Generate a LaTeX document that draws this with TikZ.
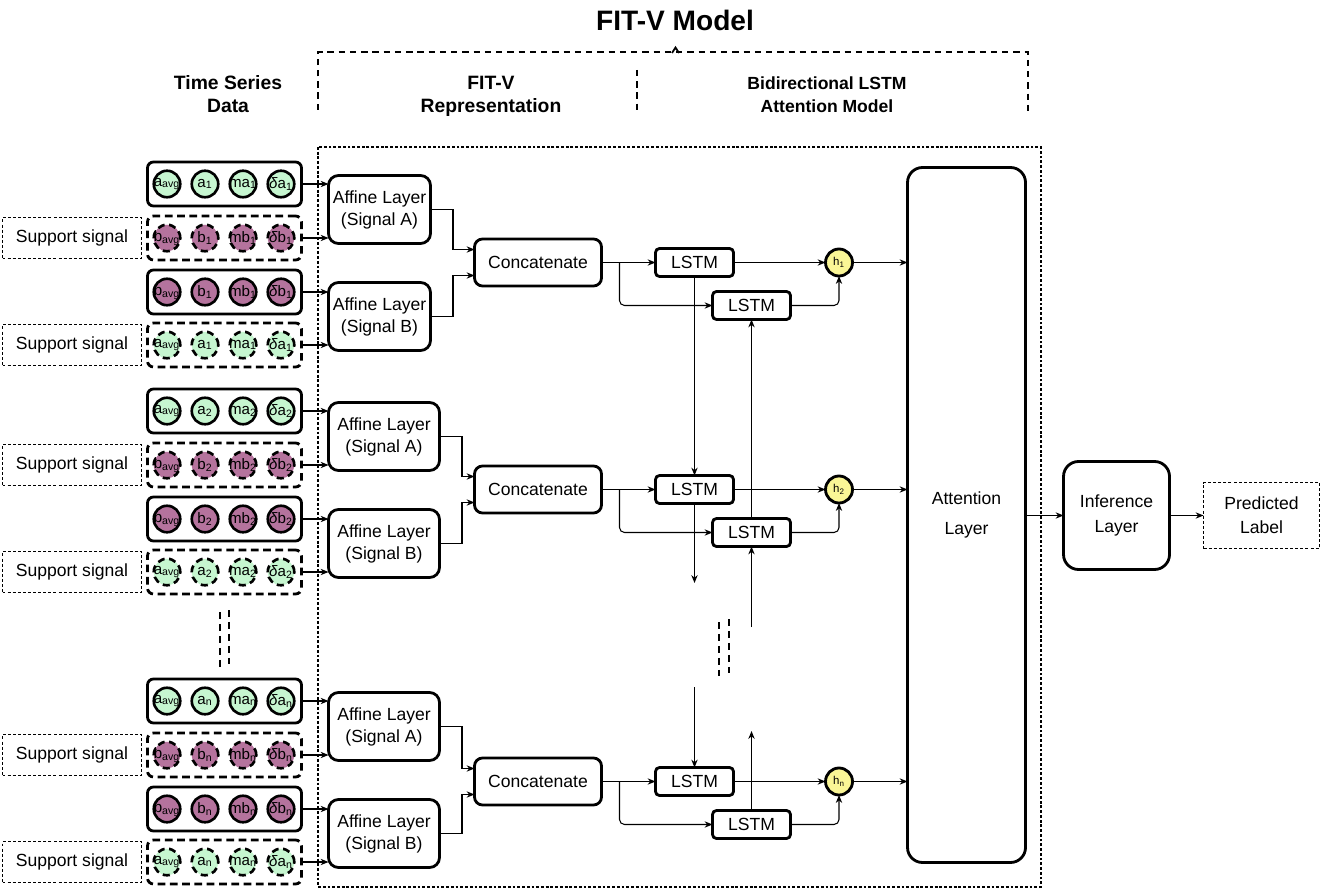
\documentclass[tikz,border=0pt]{standalone}
\usepackage{fontspec}
\setmainfont{Liberation Sans}
\usetikzlibrary{arrows.meta,calc}
\definecolor{ggreen}{RGB}{198,246,208}
\definecolor{gpurple}{RGB}{181,115,157}
\definecolor{hyellow}{RGB}{250,246,150}
\newcommand{\ux}{0.02cm}
\newcommand{\zb}[1]{\makebox[0pt][c]{#1}}
\tikzset{
  every node/.style={inner sep=0pt,outer sep=0pt},
  ln/.style={line width=0.6pt},
  arr/.style={line width=0.6pt,-{Stealth[length=4.5pt,width=3.6pt]}},
  inbox/.style={draw,line width=1.6pt,rounded corners=0.12cm,minimum width=154*\ux,minimum height=44*\ux},
  inboxd/.style={inbox,dash pattern=on 4.4pt off 2.6pt},
  cbase/.style={circle,draw,line width=1.5pt,minimum size=26.5*\ux,font=\fontsize{8.6}{10}\selectfont},
  cg/.style={cbase,fill=ggreen},
  cp/.style={cbase,fill=gpurple},
  cgd/.style={cg,dash pattern=on 4pt off 2.6pt},
  cpd/.style={cp,dash pattern=on 4pt off 2.6pt},
  sup/.style={draw,line width=0.6pt,dash pattern=on 1.7pt off 1.2pt,minimum width=139*\ux,minimum height=41*\ux,font=\fontsize{10}{12}\selectfont},
  affine/.style={draw,line width=1.6pt,rounded corners=0.2cm,minimum height=68*\ux,align=center,font=\fontsize{10}{12.5}\selectfont},
  concat/.style={draw,line width=1.6pt,rounded corners=0.16cm,minimum width=127*\ux,minimum height=47*\ux,font=\fontsize{10}{12}\selectfont},
  lstm/.style={draw,line width=1.6pt,rounded corners=0.08cm,minimum width=78*\ux,minimum height=28*\ux,font=\fontsize{10}{12}\selectfont},
  hcirc/.style={circle,draw,line width=1.6pt,fill=hyellow,minimum size=27*\ux,font=\fontsize{6.5}{7}\selectfont},
  ttl/.style={align=center,font=\fontsize{11}{13}\selectfont\bfseries},
  bdash/.style={line width=1.2pt,dash pattern=on 3.6pt off 2.8pt},
  vdots/.style={line width=1.1pt,dash pattern=on 4pt off 2.8pt},
}
\newcommand{\inrow}[6]{%
  \node[#3] (#1) at (224.5,#2) {};
  \node[#4] (#1-1) at (167,#2) {\zb{#5\textsubscript{avg}}};
  \node[#4] (#1-2) at (205,#2) {\zb{#5\textsubscript{#6}}};
  \node[#4] (#1-3) at (243,#2) {\zb{m#5\textsubscript{#6}}};
  \node[#4] (#1-4) at (281,#2) {\zb{{\itshape δ}#5\textsubscript{#6}}};
}
\newcommand{\fitgroup}[7]{%
  \inrow{G#1a}{184+#2}{inbox}{cg}{a}{#7}
  \inrow{G#1b}{238+#2}{inboxd}{cpd}{b}{#7}
  \inrow{G#1c}{292+#2}{inbox}{cp}{b}{#7}
  \inrow{G#1d}{345+#2}{inboxd}{cgd}{a}{#7}
  \node[sup] (S#1b) at (72,238+#2) {Support signal};
  \node[sup] (S#1d) at (72,345+#2) {Support signal};
  \node[affine,minimum width=#5*\ux] (A#1) at (#4,209.5+#2) {Affine Layer\\(Signal A)};
  \node[affine,minimum width=#5*\ux] (B#1) at (#4,316.5+#2) {Affine Layer\\(Signal B)};
  \node[concat] (C#1) at (538,262.5+#3) {Concatenate};
  \node[lstm] (F#1) at (694.5,262.5+#3) {LSTM};
  \node[lstm] (K#1) at (751.5,305.5+#3) {LSTM};
  \node[hcirc] (H#1) at (839,262.5+#3) {h\textsubscript{#7}};
  \draw[arr] (G#1a.east) -- (G#1a.east -| A#1.west);
  \draw[arr] (G#1b.east) -- (G#1b.east -| A#1.west);
  \draw[arr] (G#1c.east) -- (G#1c.east -| B#1.west);
  \draw[arr] (G#1d.east) -- (G#1d.east -| B#1.west);
  \coordinate (eA#1) at (#6,249.5+#3);
  \coordinate (eB#1) at (#6,275.5+#3);
  \draw[arr] (A#1.east) -| (eA#1) -- (eA#1 -| C#1.west);
  \draw[arr] (B#1.east) -| (eB#1) -- (eB#1 -| C#1.west);
  \draw[arr] (C#1.east) -- (F#1.west);
  \coordinate (br#1) at ($(C#1.east)+(18,0)$);
  \draw[arr,rounded corners=0.1cm] (br#1) |- (K#1.west);
  \draw[arr] (F#1.east) -- (H#1.west);
  \draw[arr,rounded corners=0.1cm] (K#1.east) -| (H#1.south);
  \draw[arr] (H#1.east) -- (H#1.east -| Att.west);
}
\begin{document}
\begin{tikzpicture}[x=0.02cm,y=-0.02cm]
\useasboundingbox (0,0) rectangle (1321,888);
% outer dotted frame
\draw[line width=0.6pt,dash pattern=on 1.6pt off 1.1pt] (318,147) rectangle (1041,887);
% titles
\node[font=\fontsize{16}{19}\selectfont\bfseries] (title) at (675,20) {FIT-V Model};
\node[ttl] (tsd) at (228,94) {Time Series\\Data};
\node[ttl] (rep) at (491,96) {FIT-V\\Representation};
\node[ttl,font=\fontsize{10}{13}\selectfont\bfseries] (bil) at (827,95) {Bidirectional LSTM\\Attention Model};
% bracket
\draw[bdash] (318,110) -- (318,52) -- (1028,52) -- (1028,112);
\draw[line width=1pt] (672,53) -- (675.5,47.5) -- (679,53);
\draw[bdash] (637,70) -- (637,112);
% right part
\node[draw,line width=1.6pt,rounded corners=0.3cm,minimum width=118*\ux,minimum height=695*\ux,align=center,font=\fontsize{10}{17}\selectfont] (Att) at (966.5,515) {Attention\\Layer};
\node[draw,line width=1.6pt,rounded corners=0.3cm,minimum width=106*\ux,minimum height=108*\ux,align=center,font=\fontsize{10}{14}\selectfont] (Inf) at (1116.5,515.5) {Inference\\Layer};
\node[draw,line width=0.6pt,dash pattern=on 1.7pt off 1.2pt,minimum width=116*\ux,minimum height=66*\ux,align=center,font=\fontsize{10}{13.6}\selectfont] (Pred) at (1261.5,515.5) {Predicted\\Label};
\draw[arr] (Att.east |- Inf.west) -- (Inf.west);
\draw[arr] (Inf.east) -- (Pred.west);
% groups
\fitgroup{1}{0}{0}{379.5}{102}{453}{1}
\fitgroup{2}{227}{227}{384}{111}{462}{2}
\fitgroup{n}{517}{519}{384}{111}{462}{n}
% recurrent connections
\draw[arr] (F1.south) -- (F2.north);
\draw[arr] (K2.north) -- (K1.south);
\coordinate (f2end) at (694.5,583);
\draw[arr] (F2.south) -- (f2end);
\coordinate (k2start) at (751.5,627);
\draw[arr] (k2start) -- (K2.south);
\coordinate (fnstart) at (694.5,687);
\draw[arr] (fnstart) -- (Fn.north);
\coordinate (knend) at (751.5,731);
\draw[arr] (Kn.north) -- (knend);
% ellipsis dashes
\draw[vdots] (220,612) -- (220,667);
\draw[vdots] (229,610) -- (229,664);
\draw[vdots] (719,622) -- (719,676);
\draw[vdots] (729,619) -- (729,673);
\end{tikzpicture}
\end{document}
